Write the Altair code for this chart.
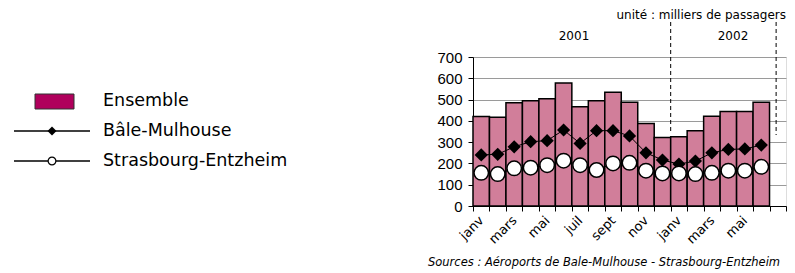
import altair as alt
import pandas as pd

# ---- data ----
months = ["2001-01", "2001-02", "2001-03", "2001-04", "2001-05", "2001-06",
          "2001-07", "2001-08", "2001-09", "2001-10", "2001-11", "2001-12",
          "2002-01", "2002-02", "2002-03", "2002-04", "2002-05", "2002-06",
          "2002-07"]
tick_labels = ["janv", "", "mars", "", "mai", "", "juil", "", "sept", "",
               "nov", "", "janv", "", "mars", "", "mai", "", ""]
y_ticks = [0, 100, 200, 300, 400, 500, 600, 700]
ensemble = [420, 417, 485, 494, 504, 578, 466, 494, 534, 488, 388, 322,
            325, 353, 422, 444, 444, 487]
bale = [240, 243, 278, 302, 307, 357, 294, 354, 354, 329, 250, 216,
        197, 211, 250, 266, 268, 286]
stras = [156, 150, 177, 180, 192, 213, 192, 169, 200, 203, 166, 153,
         153, 150, 156, 166, 166, 184]

n = len(ensemble)
df = pd.DataFrame({"mois": months[:n], "ensemble": ensemble,
                   "bale": bale, "stras": stras})

W, H = 313, 149
FONT = "Liberation Sans"
TFONT = "DejaVu Sans"
BAR_COLOR = "#D17E9A"
LEG_COLOR = "#B0005C"

keys_js = "[" + ",".join(f"'{m}'" for m in months) + "]"
labs_js = "[" + ",".join(f"'{l}'" for l in tick_labels) + "]"
label_expr = f"{labs_js}[indexof({keys_js}, datum.value)]"

xscale = alt.Scale(domain=months, paddingInner=0, paddingOuter=0)
yscale = alt.Scale(domain=[0, 700], nice=False)

x_axis = alt.Axis(labelExpr=label_expr, labelAngle=-45,
                  labelAlign="right", labelBaseline="middle",
                  tickBand="extent", tickSize=5, tickColor="black",
                  domainColor="black", labelColor="black",
                  labelFontSize=13, labelPadding=7, labelFont=TFONT,
                  grid=False, labelOverlap=False)
y_axis = alt.Axis(values=y_ticks, labelOverlap=False, labelFlush=False,
                  tickSize=5, tickColor="black", domainColor="black",
                  labelColor="black", labelFontSize=15, labelPadding=6,
                  labelFont=FONT, grid=True, gridColor="#9a9a9a", gridWidth=1)


def xo(bp=None):
    if bp is None:
        return alt.X("mois:N", scale=xscale, sort=months, title=None, axis=x_axis)
    return alt.X("mois:N", scale=xscale, sort=months, title=None, axis=x_axis,
                 bandPosition=bp)


def yo(f):
    return alt.Y(f"{f}:Q", scale=yscale, title=None, axis=y_axis)


bars = alt.Chart(df).mark_bar(fill=BAR_COLOR, stroke="black", strokeWidth=1.5).encode(
    x=xo(), y=yo("ensemble"))
bale_line = alt.Chart(df).mark_line(color="black", strokeWidth=1).encode(
    x=xo(), y=yo("bale"))
bale_pts = alt.Chart(df).mark_point(shape="diamond", filled=True, color="black",
                                    size=175, opacity=1).encode(
    x=xo(), y=yo("bale"))
stras_line = alt.Chart(df).mark_line(color="black", strokeWidth=1).encode(
    x=xo(), y=yo("stras"))
stras_pts = alt.Chart(df).mark_point(shape="circle", filled=True, fill="white",
                                     stroke="black", strokeWidth=1.5, size=210,
                                     opacity=1).encode(
    x=xo(), y=yo("stras"))

one = pd.DataFrame({"mois": ["2002-01"]})
last = pd.DataFrame({"mois": ["2002-07"]})

dash1 = alt.Chart(one).mark_rule(color="black", strokeDash=[4, 3], strokeWidth=1).encode(
    x=xo(0), y=alt.value(-35), y2=alt.value(77))
dash2 = alt.Chart(last).mark_rule(color="black", strokeDash=[4, 3], strokeWidth=1).encode(
    x=xo(0.4), y=alt.value(-35), y2=alt.value(78))


def txt(s, x, y, size=12, align="left", style="normal", font=TFONT):
    return alt.Chart(pd.DataFrame({"t": [s]})).mark_text(
        font=font, fontSize=size, align=align, baseline="middle",
        fontStyle=style, color="black").encode(
        x=alt.value(x), y=alt.value(y), text="t:N")


texts = [
    txt("unité : milliers de passagers", 313, -42, 12, "right"),
    txt("2001", 101, -21, 12, "center"),
    txt("2002", 260, -21, 12, "center"),
    txt("Sources : Aéroports de Bale-Mulhouse - Strasbourg-Entzheim", -45, 206, 11.5,
        "left", "italic"),
    txt("Ensemble", -370, 44, 17.5),
    txt("Bâle-Mulhouse", -370, 74, 17.5),
    txt("Strasbourg-Entzheim", -370, 104, 17.5),
]

leg_df = pd.DataFrame({"a": [0]})
leg_rect = alt.Chart(leg_df).mark_rect(fill=LEG_COLOR, stroke="#333", strokeWidth=1).encode(
    x=alt.value(-438), x2=alt.value(-399), y=alt.value(37), y2=alt.value(52))
leg_line1 = alt.Chart(leg_df).mark_rule(color="black", strokeWidth=1.5).encode(
    x=alt.value(-459), x2=alt.value(-383), y=alt.value(74))
leg_line2 = alt.Chart(leg_df).mark_rule(color="black", strokeWidth=1.5).encode(
    x=alt.value(-459), x2=alt.value(-383), y=alt.value(104))
leg_dia = alt.Chart(leg_df).mark_point(shape="diamond", filled=True, color="black",
                                       size=80, opacity=1).encode(
    x=alt.value(-421), y=alt.value(74))
leg_circ = alt.Chart(leg_df).mark_point(shape="circle", filled=True, fill="white",
                                        stroke="black", strokeWidth=1.2, size=60,
                                        opacity=1).encode(
    x=alt.value(-421), y=alt.value(104))

chart = alt.layer(
    bars, bale_line, stras_line, bale_pts, stras_pts, dash1, dash2,
    leg_rect, leg_line1, leg_line2, leg_dia, leg_circ, *texts
).properties(
    width=W, height=H,
    autosize=alt.AutoSizeParams(type="none"),
    padding={"left": 465, "top": 49, "right": 1, "bottom": 64},
).configure_view(stroke="#9a9a9a", strokeWidth=1).configure(font=FONT)

chart.save("out.html", embed_options={"renderer": "svg", "actions": False})
